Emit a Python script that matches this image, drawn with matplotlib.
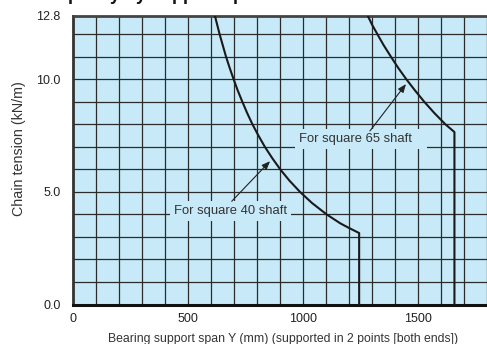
import numpy as np
import matplotlib
matplotlib.use("Agg")
import matplotlib.pyplot as plt

plt.rcParams['font.family'] = ['Liberation Sans', 'DejaVu Sans']

# data (span in mm, tension in kN/m)
span_40 = [617, 627, 637, 651, 665, 681, 698, 716, 736, 757, 780, 806, 834, 866,
           901, 941, 987, 1040, 1103, 1163, 1200, 1245, 1245]
tension_40 = [12.8, 12.4, 12.0, 11.5, 11.0, 10.5, 10.0, 9.5, 9.0, 8.5, 8.0, 7.5, 7.0, 6.5,
              6.0, 5.5, 5.0, 4.5, 4.0, 3.6, 3.4, 3.17, 0.0]

span_65 = [1283, 1302, 1324, 1352, 1383, 1415, 1450, 1488, 1528, 1572, 1620, 1660, 1660]
tension_65 = [12.8, 12.4, 12.0, 11.5, 11.0, 10.5, 10.0, 9.5, 9.0, 8.5, 8.0, 7.65, 0.0]

x_ticks = [0, 500, 1000, 1500]
y_ticks = [0.0, 5.0, 10.0, 12.8]
y_ticklabels = ["0.0", "5.0", "10.0", "12.8"]

bg = "#c8e9f8"
ink = "#222222"

W, H = 487, 344
fig = plt.figure(figsize=(W / 100, H / 100), dpi=100)
x_max = 1805
ax = fig.add_axes([73.3 / W, 39.5 / H, x_max * 0.2296 / W, 288.5 / H])
ax.set_facecolor(bg)
ax.set_xlim(0, x_max)
ax.set_ylim(0, 12.8)

# grid every 100 mm / 1 kN/m, drawn as lines so major ticks don't hide any
for gx in np.arange(100, x_max, 100):
    ax.axvline(gx, color="#2b2b2b", linewidth=0.9, zorder=1)
for gy in np.arange(1, 12.8, 1.0):
    ax.axhline(gy, color="#2b2b2b", linewidth=0.9, zorder=1)

ax.set_xticks(x_ticks)
ax.set_yticks(y_ticks)
ax.set_yticklabels(y_ticklabels)
ax.tick_params(which="both", length=0)
ax.tick_params(axis="y", pad=9, labelsize=9, colors="#222222")
ax.tick_params(axis="x", pad=6, labelsize=9, colors="#222222")

ax.spines["right"].set_visible(False)
ax.spines["left"].set_linewidth(2)
ax.spines["left"].set_color("#333333")
ax.spines["top"].set_linewidth(2)
ax.spines["top"].set_color("#444444")
ax.spines["bottom"].set_linewidth(2.2)
ax.spines["bottom"].set_color("#111111")

ax.plot(span_40, tension_40, color="#1a1a1a", linewidth=1.5, zorder=3)
ax.plot(span_65, tension_65, color="#1a1a1a", linewidth=1.5, zorder=3)

box = dict(boxstyle="square,pad=0.3", facecolor=bg, edgecolor="none")
ax.text(439, 4.16, "For square 40 shaft", fontsize=9.4, color="#333333",
        va="center", ha="left", bbox=box, zorder=4)
ax.text(983, 7.33, "For square 65 shaft   ", fontsize=9.4, color="#333333",
        va="center", ha="left", bbox=box, zorder=4)

arrow = dict(arrowstyle="-|>,head_length=0.5,head_width=0.2", color=ink, linewidth=0.8,
             shrinkA=0, shrinkB=0)
ax.annotate("", xy=(857, 6.36), xytext=(690, 4.58), arrowprops=arrow, zorder=5)
ax.annotate("", xy=(1449, 9.78), xytext=(1292, 7.7), arrowprops=arrow, zorder=5)

fig.text(283 / W, 1 - 339 / H, "Bearing support span Y (mm) (supported in 2 points [both ends])",
         fontsize=8.8, color="#333333", ha="center", va="center")
fig.text(19 / W, 1 - 149 / H, "Chain tension (kN/m)", fontsize=10.3, color="#333333",
         rotation=90, ha="center", va="center")

# title sits above the frame, only its descenders show, as in the reference
fig.text(45 / W, 1 + 0.5 / H, "Capacity by support span", fontsize=13, fontweight="bold",
         color="#111111", ha="left", va="baseline")

fig.savefig("out.png", dpi=100)
